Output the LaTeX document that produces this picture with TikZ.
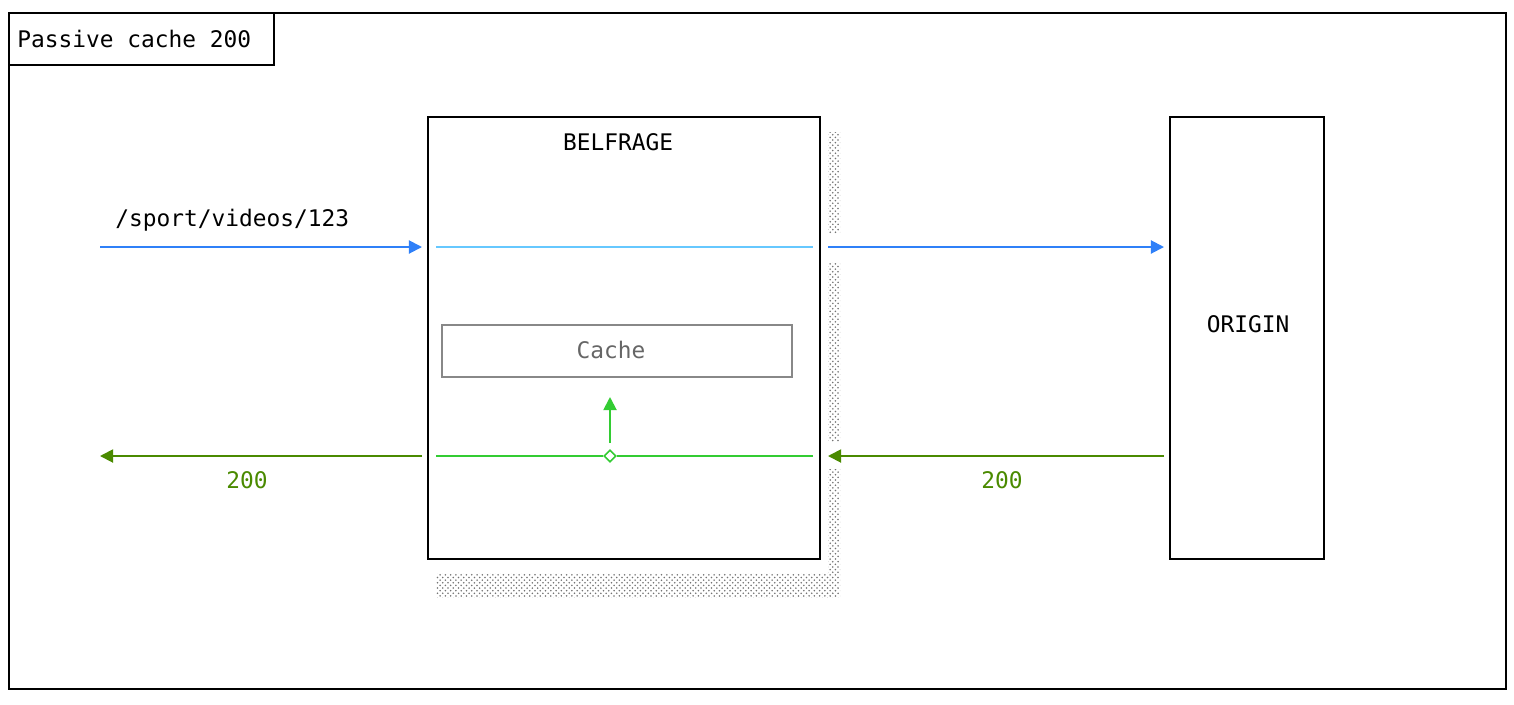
\documentclass[tikz,border=0pt]{standalone}
\usepackage{fontspec}
\setmonofont{DejaVu Sans Mono}
\usetikzlibrary{arrows.meta,shapes.geometric,patterns}
\definecolor{reqblue}{HTML}{2F80F8}
\definecolor{passblue}{HTML}{66C8FF}
\definecolor{respgreen}{HTML}{4A8A00}
\definecolor{storegreen}{HTML}{33CC33}
\definecolor{cachegray}{HTML}{888888}
\tikzstyle{frame}=[draw,line width=0.9pt,inner sep=0pt]
\tikzstyle{box}=[draw,line width=1.1pt,inner sep=0pt]
\tikzstyle{txt}=[font=\ttfamily\fontsize{13}{15}\selectfont,inner sep=0pt]
\tikzstyle{shadowfill}=[pattern=crosshatch dots,pattern color=black!55]
\tikzstyle{arrowline}=[line width=1.1pt,-{Triangle[length=7.5pt,width=7.5pt]}]

\begin{document}
\begin{tikzpicture}[x=0.02cm, y=-0.02cm]
    \useasboundingbox (0,0) rectangle (1514,704);

    % outer frame and title
    \node[frame, minimum width=29.94cm, minimum height=13.52cm] (frame) at (757.5,351) {};
    \node[frame, minimum width=5.3cm, minimum height=1.04cm] (title) at (141.5,39) {};
    \node[txt, anchor=west] (title text) at (17,39) {Passive cache 200};

    % shadow of belfrage
    \fill[shadowfill] (828,132) rectangle (840,233);
    \fill[shadowfill] (828,262) rectangle (840,441);
    \fill[shadowfill] (828,469) rectangle (840,597);
    \fill[shadowfill] (436,573) rectangle (828,597);

    \foreach \pos/\name/\boxwd in {{(624,338)/belfrage/7.84cm}, {(1247,338)/origin/3.08cm}}
        \node[box, fill=white, minimum width=\boxwd, minimum height=8.84cm] (\name) at \pos {};
    \node[txt] (belfrage label) at (618,142) {BELFRAGE};
    \node[txt] (origin label) at (1248,324) {ORIGIN};

    \node[box, draw=cachegray, line width=0.9pt, minimum width=7cm, minimum height=1.04cm] (cache) at (617,351) {};
    \node[txt, text=black!60] (cache label) at (611,350) {Cache};

    % request
    \coordinate (req start) at (100,247);
    \coordinate (req in) at (422,247);
    \coordinate (req pass a) at (436,247);
    \coordinate (req pass b) at (813,247);
    \coordinate (req out) at (828,247);
    \coordinate (req end) at (1164,247);
    \node[txt, anchor=west] (req label) at (115,220) {/sport/videos/123};

    \draw[arrowline, reqblue] (req start) -- (req in);
    \draw[line width=0.9pt, passblue] (req pass a) -- (req pass b);
    \draw[arrowline, reqblue] (req out) -- (req end);

    % response
    \coordinate (resp start) at (1164,456);
    \coordinate (resp in) at (828,456);
    \coordinate (resp pass a) at (813,456);
    \coordinate (resp pass b) at (436,456);
    \coordinate (resp out) at (422,456);
    \coordinate (resp end) at (100,456);
    \coordinate (store up) at (610,443);
    \coordinate (store top) at (610,397);
    \node[diamond, draw=storegreen, fill=white, line width=0.9pt, minimum size=7pt, inner sep=0pt] (store) at (610,456) {};
    \node[txt, text=respgreen] (origin code) at (1002,480) {200};
    \node[txt, text=respgreen] (client code) at (247,480) {200};

    \draw[arrowline, respgreen] (resp start) -- (resp in);
    \draw[line width=0.9pt, storegreen] (resp pass a) -- (store.east);
    \draw[line width=0.9pt, storegreen] (store.west) -- (resp pass b);
    \draw[arrowline, storegreen] (store up) -- (store top);
    \draw[arrowline, respgreen] (resp out) -- (resp end);

\end{tikzpicture}
\end{document}
